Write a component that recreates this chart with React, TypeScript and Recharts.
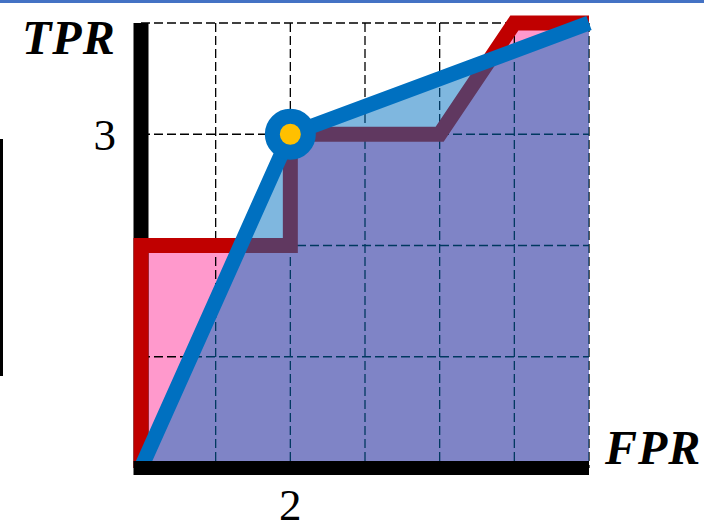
import {
  ComposedChart,
  Area,
  Line,
  XAxis,
  YAxis,
  CartesianGrid,
  ReferenceLine,
  ReferenceDot,
} from "recharts";

// grid steps: 6 negatives along FPR, 4 positives along TPR
const fprTicks = [0, 1, 2, 3, 4, 5, 6];
const tprTicks = [0, 1, 2, 3, 4];
const fprShown = [2];
const tprShown = [3];

// empirical ROC staircase
const rocFpr = [0, 0, 2, 2, 4, 5, 6];
const rocTpr = [0, 2, 2, 3, 3, 4, 4];

// convex hull of the ROC points
const hullFpr = [0, 2, 6];
const hullTpr = [0, 3, 4];
const hullVertex = 1;

const rocData = rocFpr.map((x, i) => ({ x, y: rocTpr[i] }));
const hullData = hullFpr.map((x, i) => ({ x, y: hullTpr[i] }));

const RED = "#C00000";
const BLUE = "#0070C0";
const digitFont = { fontFamily: "Liberation Serif", fontSize: 45, fill: "#000" };
const axisTitle = {
  position: "absolute" as const,
  font: "bold italic 48px 'Liberation Serif'",
  letterSpacing: 1,
  color: "#000",
  lineHeight: "56px",
};

// black x axis bar, pushed left so it closes the corner with the y bar
const AxisBar = (p: any) => (
  <line x1={p.x1 - 7.5} y1={p.y1} x2={p.x2} y2={p.y2} stroke="#000" strokeWidth={14} />
);

export default function App() {
  return (
    <div style={{ position: "absolute", left: 0, top: 0, width: 704, height: 526, background: "#fff", overflow: "hidden" }}>
      <div style={{ position: "absolute", left: 0, top: 0, width: 704, height: 3, background: "#4472C4" }} />
      <div style={{ position: "absolute", left: 0, top: 139, width: 3, height: 237, background: "#000" }} />

      <ComposedChart width={704} height={526} margin={{ top: 23, right: 115, bottom: 0, left: 0 }}>
        <XAxis
          type="number"
          dataKey="x"
          domain={[0, 6]}
          ticks={fprTicks}
          tickFormatter={(v) => (fprShown.includes(v) ? String(v) : "")}
          axisLine={false}
          tickLine={false}
          tickSize={0}
          tickMargin={20}
          height={58}
          tick={digitFont}
        />
        <YAxis
          type="number"
          dataKey="y"
          domain={[0, 4]}
          ticks={tprTicks}
          tickFormatter={(v) => (tprShown.includes(v) ? String(v) : "")}
          axisLine={false}
          tickLine={false}
          tickSize={0}
          tickMargin={25}
          width={141}
          tick={digitFont}
        />
        <Area
          data={rocData}
          dataKey="y"
          type="linear"
          fill="#FF99CC"
          fillOpacity={1}
          stroke="none"
          isAnimationActive={false}
          zIndex={100}
        />
        <CartesianGrid stroke="#000" strokeWidth={1.3} strokeDasharray="9 4" zIndex={120} />
        <ReferenceLine
          segment={[{ x: 0, y: 0 }, { x: 0, y: 4 }]}
          stroke="#000"
          strokeWidth={15}
          zIndex={150}
        />
        <Line
          data={rocData}
          dataKey="y"
          type="linear"
          stroke={RED}
          strokeWidth={15}
          dot={false}
          activeDot={false}
          isAnimationActive={false}
          zIndex={200}
        />
        <Area
          data={hullData}
          dataKey="y"
          type="linear"
          fill={BLUE}
          fillOpacity={0.5}
          stroke="none"
          isAnimationActive={false}
          zIndex={300}
        />
        <Line
          data={hullData}
          dataKey="y"
          type="linear"
          stroke={BLUE}
          strokeWidth={15}
          dot={false}
          activeDot={false}
          isAnimationActive={false}
          zIndex={400}
        />
        <ReferenceDot
          x={hullFpr[hullVertex]}
          y={hullTpr[hullVertex]}
          r={18}
          fill="#FFC000"
          stroke={BLUE}
          strokeWidth={15}
          zIndex={500}
        />
        <ReferenceLine
          segment={[{ x: 0, y: 0 }, { x: 6, y: 0 }]}
          shape={AxisBar}
          zIndex={600}
        />
      </ComposedChart>

      <div style={{ ...axisTitle, left: 22, top: 10 }}>TPR</div>
      <div style={{ ...axisTitle, left: 605, top: 420 }}>FPR</div>
    </div>
  );
}
